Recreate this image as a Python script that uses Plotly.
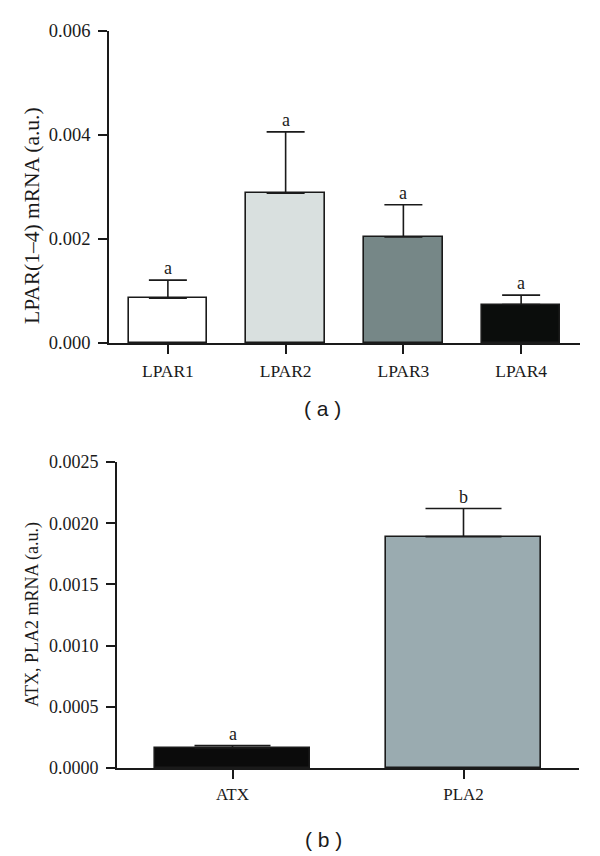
import plotly.graph_objects as go

# ---- data ----
cats_a = ["LPAR1", "LPAR2", "LPAR3", "LPAR4"]
vals_a = [0.00086, 0.00288, 0.00204, 0.00074]
err_a = [0.00035, 0.00118, 0.00062, 0.00018]
letters_a = ["a", "a", "a", "a"]
colors_a = ["#ffffff", "#d9e0df", "#768787", "#0b0d0c"]

cats_b = ["ATX", "PLA2"]
vals_b = [0.000163, 0.00189]
err_b = [0.00002, 0.00023]
letters_b = ["a", "b"]
colors_b = ["#0b0b0b", "#9aabb0"]

yticks_a = [0.0, 0.002, 0.004, 0.006]
yticks_b = [0.0, 0.0005, 0.0010, 0.0015, 0.0020, 0.0025]

# page body has an 8px margin: draw on a 592x848 canvas offset by 8px
OFF = 8
W, H = 600 - OFF, 856 - OFF
SERIF = "Liberation Serif, Times New Roman, serif"
SANS = "Liberation Sans, Arial, sans-serif"
INK = "#1a1a1a"

def px_x(p):
    return (p - OFF) / W

def px_y(p):
    return 1 - (p - OFF) / H

fig = go.Figure()

fig.add_trace(go.Bar(
    x=cats_a, y=vals_a, width=0.665,
    marker=dict(color=colors_a, line=dict(color=INK, width=1.6)),
    error_y=dict(type="data", symmetric=False, array=err_a, arrayminus=[0] * len(err_a),
                 color=INK, thickness=1.6, width=19),
    xaxis="x", yaxis="y", showlegend=False,
))
fig.add_trace(go.Bar(
    x=cats_b, y=vals_b, width=0.67,
    marker=dict(color=colors_b, line=dict(color=INK, width=1.6)),
    error_y=dict(type="data", symmetric=False, array=err_b, arrayminus=[0] * len(err_b),
                 color=INK, thickness=1.6, width=38),
    xaxis="x2", yaxis="y2", showlegend=False,
))

def axis_common(size, standoff):
    return dict(showline=True, linecolor=INK, linewidth=1.8, ticks="outside",
                ticklen=9, tickwidth=1.6, tickcolor=INK, showgrid=False,
                zeroline=False, automargin=False, ticklabelstandoff=standoff,
                tickfont=dict(family=SERIF, size=size, color=INK))

fig.update_layout(
    width=W, height=H,
    margin=dict(l=0, r=0, t=0, b=0),
    paper_bgcolor="white", plot_bgcolor="white",
    bargap=0,
    xaxis=dict(domain=[px_x(109), px_x(580)], anchor="y", range=[-0.5, 3.5], **axis_common(17.5, 2)),
    yaxis=dict(domain=[px_y(343), px_y(31)], anchor="x", range=[0, 0.006],
               tickvals=yticks_a, tickformat=".3f", **axis_common(18.5, 4)),
    xaxis2=dict(domain=[px_x(117), px_x(579)], anchor="y2", range=[-0.5, 1.5], **axis_common(17, 1)),
    yaxis2=dict(domain=[px_y(768), px_y(462)], anchor="x2", range=[0, 0.0025],
                tickvals=yticks_b, tickformat=".4f", **axis_common(18, 4)),
)

annotations = []
for c, v, e, t in zip(cats_a, vals_a, err_a, letters_a):
    annotations.append(dict(x=c, y=v + e, xref="x", yref="y", text=t, showarrow=False,
                            yanchor="bottom", yshift=0, font=dict(family=SERIF, size=18, color=INK)))
for c, v, e, t in zip(cats_b, vals_b, err_b, letters_b):
    annotations.append(dict(x=c, y=v + e, xref="x2", yref="y2", text=t, showarrow=False,
                            yanchor="bottom", yshift=0, font=dict(family=SERIF, size=18, color=INK)))

annotations.append(dict(x=px_x(32), y=px_y(216), xref="paper", yref="paper",
                        text="LPAR(1\u20134) mRNA (a.u.)", textangle=-90, showarrow=False,
                        xanchor="center", yanchor="middle",
                        font=dict(family=SERIF, size=21.5, color=INK)))
annotations.append(dict(x=px_x(32), y=px_y(615), xref="paper", yref="paper",
                        text="ATX, PLA2 mRNA (a.u.)", textangle=-90, showarrow=False,
                        xanchor="center", yanchor="middle",
                        font=dict(family=SERIF, size=18, color=INK)))
annotations.append(dict(x=px_x(322), y=px_y(408), xref="paper", yref="paper",
                        text="( a )", showarrow=False, xanchor="center", yanchor="middle",
                        font=dict(family=SANS, size=21, color=INK)))
annotations.append(dict(x=px_x(323), y=px_y(839), xref="paper", yref="paper",
                        text="( b )", showarrow=False, xanchor="center", yanchor="middle",
                        font=dict(family=SANS, size=21, color=INK)))

fig.update_layout(annotations=annotations)

fig.write_html("out.html")
